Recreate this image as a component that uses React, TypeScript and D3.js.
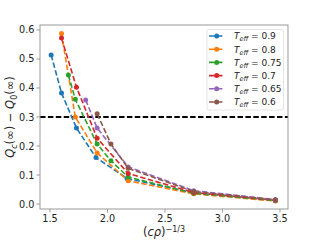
import React from "react";
import * as d3 from "d3";

const labels = ["0.9", "0.8", "0.75", "0.7", "0.65", "0.6"];
const colors = ["#1f77b4", "#ff7f0e", "#2ca02c", "#d62728", "#9467bd", "#8c564b"];

const xBlue = [1.51, 1.6, 1.73, 1.9, 2.17, 2.75, 3.46];
const yBlue = [0.514, 0.383, 0.262, 0.16, 0.088, 0.038, 0.012];
const xOrange = [1.6, 1.72, 1.91, 2.18, 2.75, 3.46];
const yOrange = [0.588, 0.3, 0.176, 0.08, 0.035, 0.01];
const xGreen = [1.66, 1.72, 1.91, 2.03, 2.18, 2.75, 3.46];
const yGreen = [0.445, 0.361, 0.207, 0.149, 0.093, 0.037, 0.012];
const xRed = [1.6, 1.73, 1.91, 2.18, 2.75, 3.46];
const yRed = [0.572, 0.403, 0.227, 0.105, 0.04, 0.013];
const xPurple = [1.81, 1.91, 2.18, 2.75, 3.46];
const yPurple = [0.359, 0.262, 0.128, 0.046, 0.015];
const xBrown = [1.91, 2.03, 2.18, 2.75, 3.46];
const yBrown = [0.311, 0.207, 0.123, 0.043, 0.015];

const xsList = [xBlue, xOrange, xGreen, xRed, xPurple, xBrown];
const ysList = [yBlue, yOrange, yGreen, yRed, yPurple, yBrown];

const xTicks = [1.5, 2.0, 2.5, 3.0, 3.5];
const yTicks = [0.0, 0.1, 0.2, 0.3, 0.4, 0.5, 0.6];
const hLine = 0.3;

const W = 320, H = 240;
const L = 40, R = 288, T = 25, B = 209;

export default function App() {
  const x = d3.scaleLinear().domain([1.413, 3.57]).range([L, R]);
  const y = d3.scaleLinear().domain([-0.0172, 0.6172]).range([B, T]);
  const line = d3.line<[number, number]>().x(d => x(d[0])).y(d => y(d[1]));
  const font = "DejaVu Sans, sans-serif";
  const legX = 207, legY = 29.5, legW = 76.5, legH = 80.5;
  const rowH = 13.2;
  return (
    <svg width={W} height={H} style={{ position: "absolute", left: 0, top: 0 }}>
      <rect width={W} height={H} fill="white" />
      <defs>
        <clipPath id="clip">
          <rect x={L} y={T} width={R - L} height={B - T} />
        </clipPath>
      </defs>
      <g clipPath="url(#clip)">
        <line x1={L} x2={R} y1={y(hLine)} y2={y(hLine)} stroke="black" strokeWidth={1.8} strokeDasharray="5.5,2.4" />
        {xsList.map((xs, i) => {
          const pts = xs.map((v, j) => [v, ysList[i][j]] as [number, number]);
          return (
            <g key={i}>
              <path d={line(pts) || ""} fill="none" stroke={colors[i]} strokeWidth={1.6} strokeDasharray="5.5,2.4" />
              {pts.map((p, j) => (
                <circle key={j} cx={x(p[0])} cy={y(p[1])} r={2.5} fill={colors[i]} />
              ))}
            </g>
          );
        })}
      </g>
      <rect x={L} y={T} width={R - L} height={B - T} fill="none" stroke="#999" strokeWidth={1} />
      {xTicks.map(t => (
        <g key={t}>
          <line x1={x(t)} x2={x(t)} y1={B} y2={B + 3.5} stroke="#999" />
          <text x={x(t)} y={B + 13} fontSize={9.7} fontFamily={font} textAnchor="middle" fill="#222">{t.toFixed(1)}</text>
        </g>
      ))}
      {yTicks.map(t => (
        <g key={t}>
          <line x1={L - 3.5} x2={L} y1={y(t)} y2={y(t)} stroke="#999" />
          <text x={L - 5.5} y={y(t) + 3.5} fontSize={9.7} fontFamily={font} textAnchor="end" fill="#222">{t.toFixed(1)}</text>
        </g>
      ))}
      <text x={(L + R) / 2} y={236} fontSize={11.5} fontFamily={font} textAnchor="middle" fill="#222">
        (<tspan fontStyle="italic">cρ</tspan>)<tspan dy={-4} fontSize={8}>−1/3</tspan>
      </text>
      <text transform={`translate(14,${(T + B) / 2}) rotate(-90)`} fontSize={11.5} fontFamily={font} textAnchor="middle" fill="#222">
        <tspan fontStyle="italic">Q</tspan><tspan dy={2.5} fontSize={8} fontStyle="italic">c</tspan><tspan dy={-2.5}>(∞) − </tspan><tspan fontStyle="italic">Q</tspan><tspan dy={2.5} fontSize={8}>0</tspan><tspan dy={-2.5}>(∞)</tspan>
      </text>
      <rect x={legX} y={legY} width={legW} height={legH} rx={2} fill="white" fillOpacity={0.8} stroke="#ddd" strokeWidth={0.8} />
      {labels.map((lab, i) => {
        const cy = legY + 6.5 + i * rowH;
        return (
          <g key={lab}>
            <line x1={209} x2={224.5} y1={cy} y2={cy} stroke={colors[i]} strokeWidth={1.6} strokeDasharray="5.5,2.4" />
            <circle cx={216.7} cy={cy} r={2.5} fill={colors[i]} />
            <text x={234} y={cy + 3.3} fontSize={9} fontFamily={font} fill="#222">
              <tspan fontStyle="italic">T</tspan><tspan dy={2} fontSize={6.5} fontStyle="italic">eff</tspan><tspan dy={-2}> = {lab}</tspan>
            </text>
          </g>
        );
      })}
    </svg>
  );
}
